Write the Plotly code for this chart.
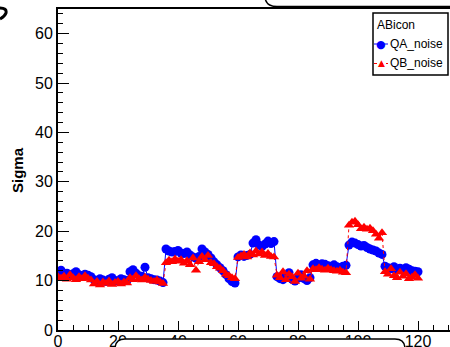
import plotly.graph_objects as go

# ---------------- data ----------------
channel = list(range(121))

qa_noise = [
    11.6, 12.1, 11.3, 11.5, 11.0, 11.4, 11.8, 11.2, 11.0, 11.3, 11.1, 10.8,
    10.2, 9.9, 10.4, 10.1, 9.8, 10.3, 10.6, 10.0, 9.9, 10.4, 10.2, 10.0,
    11.8, 12.2, 11.5, 11.0, 10.9, 12.7, 10.6, 10.4, 10.2, 10.1, 9.9, 9.6,
    16.4, 16.0, 15.8, 15.9, 16.1, 15.6, 15.5, 15.8, 15.2, 14.8, 14.5, 14.9,
    16.4, 15.8, 15.3, 14.6, 13.8, 13.2, 12.6, 12.0, 11.2, 10.4, 9.8, 9.5,
    14.8, 15.2, 14.9, 15.1, 15.3, 17.6, 18.3, 17.2, 16.9, 17.4, 18.0, 17.5, 17.9,
    10.8, 10.4, 10.2, 10.9, 11.6, 10.3, 9.9, 10.5, 11.2, 10.4, 10.0, 10.6,
    13.2, 13.5, 13.1, 13.4, 13.3, 13.0, 12.9, 13.2, 12.8, 12.6, 12.9, 13.1,
    17.2, 17.8, 17.6, 17.3, 17.0, 17.1, 16.7, 16.4, 16.2, 16.0, 15.6, 15.3,
    12.9, 12.6, 12.4, 12.8, 12.2, 12.5, 12.1, 12.6, 12.3, 12.0, 11.9, 11.8,
]

qb_noise = [
    10.8, 10.5, 10.9, 10.3, 11.2, 10.6, 10.2, 10.8, 10.4, 11.0, 10.5, 10.1,
    9.3, 9.8, 9.1, 9.7, 9.4, 9.9, 9.2, 9.6, 9.8, 9.3, 9.7, 9.5,
    10.6, 10.2, 11.0, 10.4, 10.1, 10.7, 10.3, 10.0, 9.8, 10.1, 9.7, 9.4,
    13.6, 14.1, 13.8, 14.4, 13.9, 14.2, 13.5, 14.0, 13.2, 14.6, 12.1, 13.8,
    14.9, 14.2, 15.1, 13.6, 13.4, 12.8, 12.5, 12.0, 11.3, 11.0, 10.6, 10.4,
    14.7, 15.0, 15.3, 14.8, 15.6, 15.2, 16.0, 15.4, 15.8, 15.1, 15.5, 14.9, 14.8,
    11.1, 10.6, 11.8, 10.2, 11.3, 10.8, 9.8, 11.5, 10.5, 10.9, 12.0, 10.3,
    12.4, 12.2, 12.6, 12.3, 12.1, 12.5, 12.2, 12.0, 11.9, 12.1, 11.7, 11.6,
    21.2, 21.8, 22.0, 21.3, 20.5, 20.8, 20.4, 20.6, 20.1, 19.4, 18.6, 19.7,
    11.8, 11.3, 12.4, 11.0, 10.6, 11.7, 10.9, 11.4, 10.4, 10.7, 11.2, 10.5,
]

legend_title = "ABicon"
series_names = ["QA_noise", "QB_noise"]
y_title = "Sigma"
x_ticks = [0, 20, 40, 60, 80, 100, 120]
y_ticks = [0, 10, 20, 30, 40, 50, 60]

# ---------------- figure ----------------
W, H = 450, 347
L, R, T, B = 58, 450, 9, 330
PW, PH = R - L, B - T


def px(x):
    return (x - L) / PW


def py(y):
    return (B - y) / PH


FONT = "Liberation Sans, Arial, Helvetica, sans-serif"

fig = go.Figure()
fig.add_trace(go.Scatter(
    x=channel, y=qa_noise, name=series_names[0], mode="lines+markers",
    line=dict(color="#0000ff", width=1),
    marker=dict(symbol="circle", size=9, color="#0000ff"),
    showlegend=False,
))
fig.add_trace(go.Scatter(
    x=channel, y=qb_noise, name=series_names[1], mode="lines+markers",
    line=dict(color="#ff0000", width=1, dash="dot"),
    marker=dict(symbol="triangle-up", size=9, color="#ff0000"),
    showlegend=False,
))

fig.update_layout(
    width=W, height=H,
    margin=dict(l=L, r=W - R, t=T, b=H - B, pad=0, autoexpand=False),
    paper_bgcolor="white", plot_bgcolor="white",
    font=dict(family=FONT, size=16, color="black"),
    showlegend=False,
)
fig.update_xaxes(
    range=[0, PW / 3.0], tickvals=x_ticks, ticktext=[str(v) for v in x_ticks],
    ticks="inside", ticklen=9, tickwidth=1, tickcolor="black",
    minor=dict(dtick=5, tick0=0, ticks="inside", ticklen=5, tickwidth=1, tickcolor="black"),
    showline=True, linewidth=2, linecolor="black", mirror=True,
    showgrid=False, zeroline=False, tickfont=dict(size=16, family=FONT),
    automargin=False, ticklabelstandoff=-4,
)
fig.update_yaxes(
    range=[0, 65], tickvals=y_ticks, ticktext=[str(v) for v in y_ticks],
    ticks="inside", ticklen=11, tickwidth=1, tickcolor="black",
    minor=dict(dtick=2, tick0=0, ticks="inside", ticklen=5, tickwidth=1, tickcolor="black"),
    showline=True, linewidth=2, linecolor="black", mirror=True,
    showgrid=False, zeroline=False, tickfont=dict(size=16, family=FONT),
    automargin=False,
)


def path(points, close=True):
    s = ""
    for cmd, pts in points:
        s += cmd + " " + " ".join(f"{px(a):.5f},{py(b):.5f}" for a, b in pts) + " "
    return s + ("Z" if close else "")


shapes = []
# top rounded (title) pave, cut off by the window
shapes.append(dict(
    type="path", xref="paper", yref="paper", layer="above",
    path=path([("M", [(265, -30)]), ("L", [(265, -4)]),
               ("Q", [(265, 6.5), (277, 6.5)]), ("L", [(470, 6.5)]),
               ("L", [(470, -30)])]),
    fillcolor="white", line=dict(color="black", width=1.5),
))
# bottom rounded pave overlapping the x labels
shapes.append(dict(
    type="path", xref="paper", yref="paper", layer="above",
    path=path([("M", [(115, 370)]), ("L", [(115, 349)]),
               ("Q", [(115, 339), (125, 339)]), ("L", [(395, 339)]),
               ("Q", [(405, 339), (405, 349)]), ("L", [(405, 370)])]),
    fillcolor="white", line=dict(color="black", width=1.5),
))
# legend box
shapes.append(dict(
    type="rect", xref="paper", yref="paper", layer="above",
    x0=px(373), x1=px(448), y0=py(13), y1=py(75),
    fillcolor="white", line=dict(color="black", width=1.5),
))
# legend lines
shapes.append(dict(type="line", xref="paper", yref="paper", layer="above",
                   x0=px(374), x1=px(388), y0=py(44), y1=py(44),
                   line=dict(color="#0000ff", width=1)))
shapes.append(dict(type="line", xref="paper", yref="paper", layer="above",
                   x0=px(374), x1=px(388), y0=py(63.5), y1=py(63.5),
                   line=dict(color="#ff0000", width=1, dash="dot")))
# partial glyph at top-left corner
shapes.append(dict(
    type="path", xref="paper", yref="paper", layer="above",
    path=path([("M", [(0, 8)]), ("Q", [(7, 8), (6, 13)]), ("Q", [(5, 16), (0, 19)])], close=False),
    line=dict(color="black", width=3),
))
fig.update_layout(shapes=shapes)

ann = []
ann.append(dict(text=legend_title, xref="paper", yref="paper", x=px(375), y=py(25),
                xanchor="left", yanchor="middle", showarrow=False,
                font=dict(size=12, family=FONT, color="black")))
ann.append(dict(text="●", xref="paper", yref="paper", x=px(381), y=py(44),
                xanchor="center", yanchor="middle", showarrow=False,
                font=dict(size=11, family="DejaVu Sans", color="#0000ff")))
ann.append(dict(text="▲", xref="paper", yref="paper", x=px(381), y=py(63),
                xanchor="center", yanchor="middle", showarrow=False,
                font=dict(size=9, family="DejaVu Sans", color="#ff0000")))
ann.append(dict(text=series_names[0], xref="paper", yref="paper", x=px(388), y=py(44),
                xanchor="left", yanchor="middle", showarrow=False,
                font=dict(size=12, family=FONT, color="black")))
ann.append(dict(text=series_names[1], xref="paper", yref="paper", x=px(388), y=py(63.5),
                xanchor="left", yanchor="middle", showarrow=False,
                font=dict(size=12, family=FONT, color="black")))
ann.append(dict(text="<b>" + y_title + "</b>", xref="paper", yref="paper",
                x=px(18), y=py(170), textangle=-90,
                xanchor="center", yanchor="middle", showarrow=False,
                font=dict(size=15, family=FONT, color="black")))
fig.update_layout(annotations=ann)

fig.write_html(
    "out.html",
    config={"displayModeBar": False},
    post_script="document.body.style.margin='0';document.body.style.overflow='hidden';",
)
